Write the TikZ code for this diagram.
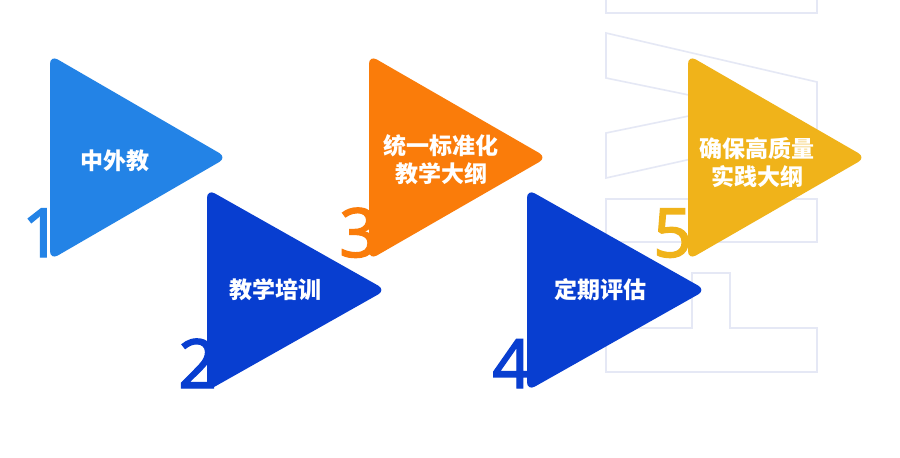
\documentclass[tikz,border=0pt]{standalone}
\usepackage{fontspec}
\newfontfamily\cjk{Noto Sans CJK SC}
\newfontfamily\digits{Noto Sans}[FakeBold=1.8]
\definecolor{cA}{RGB}{35,131,230}
\definecolor{cB}{RGB}{8,62,208}
\definecolor{cC}{RGB}{250,124,10}
\definecolor{cD}{RGB}{240,179,26}
\definecolor{bgc}{RGB}{229,232,245}
\begin{document}
\begin{tikzpicture}[x=1pt,y=-1pt,
  tri/.style={rounded corners=9pt},
  lbl/.style={text=white,font=\cjk\bfseries\fontsize{23}{28}\selectfont,align=center,inner sep=0pt},
  num/.style={font=\digits\fontsize{68}{68}\selectfont,inner sep=0pt,anchor=base west},
  bgline/.style={draw=bgc,line width=1.6pt,line join=miter}]
\useasboundingbox[fill=white] (0,0) rectangle (900,458);
% background outlines
\draw[bgline] (606,-5) -- (606,13) -- (817,13) -- (817,-5);
\draw[bgline] (606,33) -- (817,82) -- (817,131) -- (606,178) -- (606,133) -- (740,105.5) -- (606,78) -- cycle;
\draw[bgline] (606,199) rectangle (817,242);
\draw[bgline] (692,273) -- (730,273) -- (730,328) -- (817,328) -- (817,372) -- (606,372) -- (606,328) -- (692,328) -- cycle;
% numbers
\node[num,text=cA] (n1) at (22,257) {1};
\node[num,text=cB] (n2) at (178,388) {2};
\node[num,text=cC] (n3) at (339,257) {3};
\node[num,text=cB] (n4) at (492,388) {4};
\node[num,text=cD] (n5) at (653,257) {5};
% triangles
\fill[cA,tri] (50,157.5) -- (50,55) -- (227,157.5) -- (50,260) -- cycle;
\fill[cB,tri] (207,290) -- (207,189) -- (386,290) -- (207,391) -- cycle;
\fill[cC,tri] (369,157.5) -- (369,55) -- (547,157.5) -- (369,260) -- cycle;
\fill[cB,tri] (527,290) -- (527,189) -- (706,290) -- (527,391) -- cycle;
\fill[cD,tri] (688,157.5) -- (688,55) -- (866,157.5) -- (688,260) -- cycle;
% labels
\node[lbl] (t1) at (115,161) {中外教};
\node[lbl] (t2) at (275,290) {教学培训};
\node[lbl] (t3) at (441,160) {统一标准化\\教学大纲};
\node[lbl] (t4) at (600,290) {定期评估};
\node[lbl] (t5) at (757,163) {确保高质量\\实践大纲};
\end{tikzpicture}
\end{document}
